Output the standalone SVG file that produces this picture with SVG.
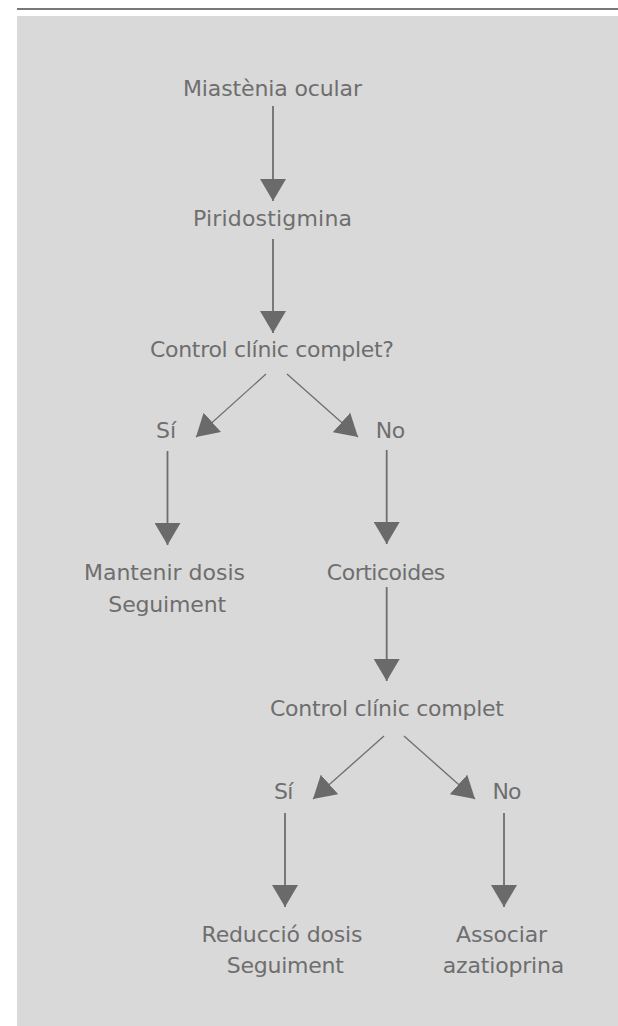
<svg xmlns="http://www.w3.org/2000/svg" width="618" height="1026" viewBox="0 0 618 1026">
<style>
.t{font-family:"DejaVu Sans","Liberation Sans",sans-serif;font-size:22px;fill:#6e6e6e;text-anchor:middle}
.v{stroke:#6e6e6e;stroke-width:1.8;fill:none}
.d{stroke:#6e6e6e;stroke-width:1.3;fill:none}
</style>
<defs>
<marker id="ah" markerUnits="userSpaceOnUse" viewBox="0 -13 22 26" refX="22" refY="0" markerWidth="22" markerHeight="26" orient="auto">
<path d="M0,-13 L22,0 L0,13 Z" fill="#6a6a6a"/>
</marker>
</defs>
<rect x="0" y="0" width="618" height="1026" fill="#ffffff"/>
<rect x="17" y="8" width="601" height="2" fill="#787878"/>
<rect x="17" y="16" width="601" height="1010" fill="#d9d9d9"/>
<g id="connectors">
<line class="v" x1="273" y1="106" x2="273" y2="201" marker-end="url(#ah)"/>
<line class="v" x1="273" y1="239" x2="273" y2="333" marker-end="url(#ah)"/>
<line class="d" x1="266" y1="374" x2="196" y2="437" marker-end="url(#ah)"/>
<line class="d" x1="287" y1="374" x2="358" y2="437" marker-end="url(#ah)"/>
<line class="v" x1="167.5" y1="451" x2="167.5" y2="545" marker-end="url(#ah)"/>
<line class="v" x1="386.7" y1="450" x2="386.7" y2="544" marker-end="url(#ah)"/>
<line class="v" x1="386.7" y1="587" x2="386.7" y2="681" marker-end="url(#ah)"/>
<line class="d" x1="384" y1="736" x2="313" y2="799" marker-end="url(#ah)"/>
<line class="d" x1="404" y1="736" x2="475" y2="799" marker-end="url(#ah)"/>
<line class="v" x1="285" y1="813" x2="285" y2="907" marker-end="url(#ah)"/>
<line class="v" x1="504" y1="813" x2="504" y2="907" marker-end="url(#ah)"/>
</g>
<g id="n1"><text class="t" x="272.5" y="96" textLength="179" lengthAdjust="spacing">Miastènia ocular</text></g>
<g id="n2"><text class="t" x="272.5" y="226" textLength="159" lengthAdjust="spacing">Piridostigmina</text></g>
<g id="n3"><text class="t" x="272" y="357" textLength="244" lengthAdjust="spacing">Control clínic complet?</text></g>
<g id="n4"><text class="t" x="166" y="437.5" textLength="20" lengthAdjust="spacing">Sí</text></g>
<g id="n5"><text class="t" x="390.5" y="437.5" textLength="29.6" lengthAdjust="spacing">No</text></g>
<g id="n6">
<text class="t" x="164.5" y="580" textLength="161" lengthAdjust="spacing">Mantenir dosis</text>
<text class="t" x="167.2" y="611.5" textLength="117.7" lengthAdjust="spacing">Seguiment</text>
</g>
<g id="n7"><text class="t" x="386" y="580" textLength="118.3" lengthAdjust="spacing">Corticoides</text></g>
<g id="n8"><text class="t" x="387" y="716" textLength="234" lengthAdjust="spacing">Control clínic complet</text></g>
<g id="n9"><text class="t" x="283.7" y="799" textLength="19.3" lengthAdjust="spacing">Sí</text></g>
<g id="n10"><text class="t" x="507" y="799" textLength="29" lengthAdjust="spacing">No</text></g>
<g id="n11">
<text class="t" x="282" y="942.3" textLength="161" lengthAdjust="spacing">Reducció dosis</text>
<text class="t" x="285.3" y="973.3" textLength="117.3" lengthAdjust="spacing">Seguiment</text>
</g>
<g id="n12">
<text class="t" x="501.5" y="942" textLength="91" lengthAdjust="spacing">Associar</text>
<text class="t" x="503.5" y="973" textLength="121.6" lengthAdjust="spacing">azatioprina</text>
</g>
</svg>
